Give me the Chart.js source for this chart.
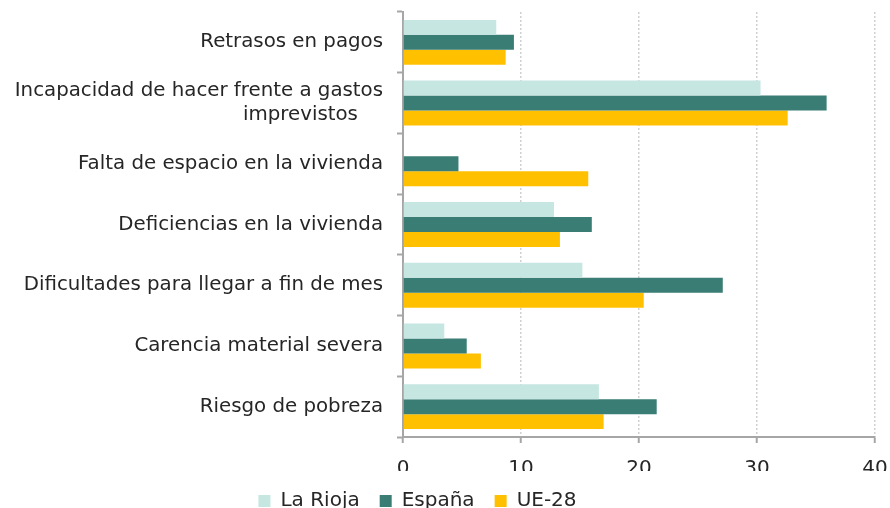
<!DOCTYPE html>
<html>
<head>
<meta charset="utf-8">
<script src="https://cdn.jsdelivr.net/npm/chart.js@4/dist/chart.umd.min.js"></script>
<style>
  html, body { margin: 0; padding: 0; background: #fff; }
  #wrap { width: 890px; height: 508px; }
</style>
</head>
<body>
<div id="wrap"><canvas id="chart"></canvas></div>
<script>
const categories = [
    'Retrasos en pagos',
    ['Incapacidad de hacer frente a gastos', 'imprevistos    '],
    'Falta de espacio en la vivienda',
    'Deficiencias en la vivienda',
    'Dificultades para llegar a fin de mes',
    'Carencia material severa',
    'Riesgo de pobreza'
];
const laRioja = [7.9, 30.3, null, 12.8, 15.2, 3.5, 16.6];
const espana = [9.4, 35.9, 4.7, 16.0, 27.1, 5.4, 21.5];
const ue28 = [8.7, 32.6, 15.7, 13.3, 20.4, 6.6, 17.0];
const xTicks = [0, 10, 20, 30, 40];

const axisGray = '#a6a6a6';
const fontFamily = '"DejaVu Sans", sans-serif';

Chart.defaults.font.family = fontFamily;
Chart.defaults.color = '#262626';

// el legend de Excel va algo desplazado a la izquierda
const legendShift = {
    id: 'legendShift',
    afterLayout(chart) {
        chart.legend.left -= 20;
        chart.legend.right -= 20;
    }
};

new Chart(document.getElementById('chart'), {
    type: 'bar',
    data: {
        labels: categories,
        datasets: [
            { label: 'La Rioja', data: laRioja, backgroundColor: '#c5e6e1' },
            { label: 'España', data: espana, backgroundColor: '#3a7d74' },
            { label: 'UE-28', data: ue28, backgroundColor: '#ffc000' }
        ]
    },
    options: {
        indexAxis: 'y',
        responsive: true,
        maintainAspectRatio: false,
        animation: false,
        layout: { padding: { top: 12, right: 15, left: 0, bottom: -13 } },
        datasets: { bar: { barPercentage: 1.0, categoryPercentage: 0.74 } },
        scales: {
            x: {
                min: 0, max: 40,
                afterBuildTicks: (scale) => { scale.ticks = xTicks.map(v => ({ value: v })); },
                afterFit: (scale) => {
                    scale.height = 34;
                    scale.paddingLeft = 0;
                    scale.paddingRight = 0;
                },
                border: { display: true, color: axisGray, width: 2, dash: [2, 2] },
                grid: {
                    color: '#d0d0d0', lineWidth: 1.5,
                    tickLength: 6, tickColor: axisGray, tickWidth: 2, tickBorderDash: []
                },
                ticks: { font: { size: 20 }, padding: 14, color: '#262626' }
            },
            y: {
                afterFit: (scale) => {
                    scale.width = 403;
                    scale.paddingTop = 0;
                    scale.paddingBottom = 0;
                },
                border: { display: true, color: axisGray, width: 2 },
                grid: {
                    drawOnChartArea: false, tickLength: 6, tickColor: axisGray, tickWidth: 2
                },
                ticks: { font: { size: 19.8 }, padding: 14, color: '#262626' }
            }
        },
        plugins: {
            legend: {
                position: 'bottom',
                labels: { font: { size: 20 }, boxWidth: 12, boxHeight: 12, padding: 20, color: '#262626' }
            },
            tooltip: { enabled: false }
        }
    },
    plugins: [legendShift]
});
</script>
</body>
</html>
